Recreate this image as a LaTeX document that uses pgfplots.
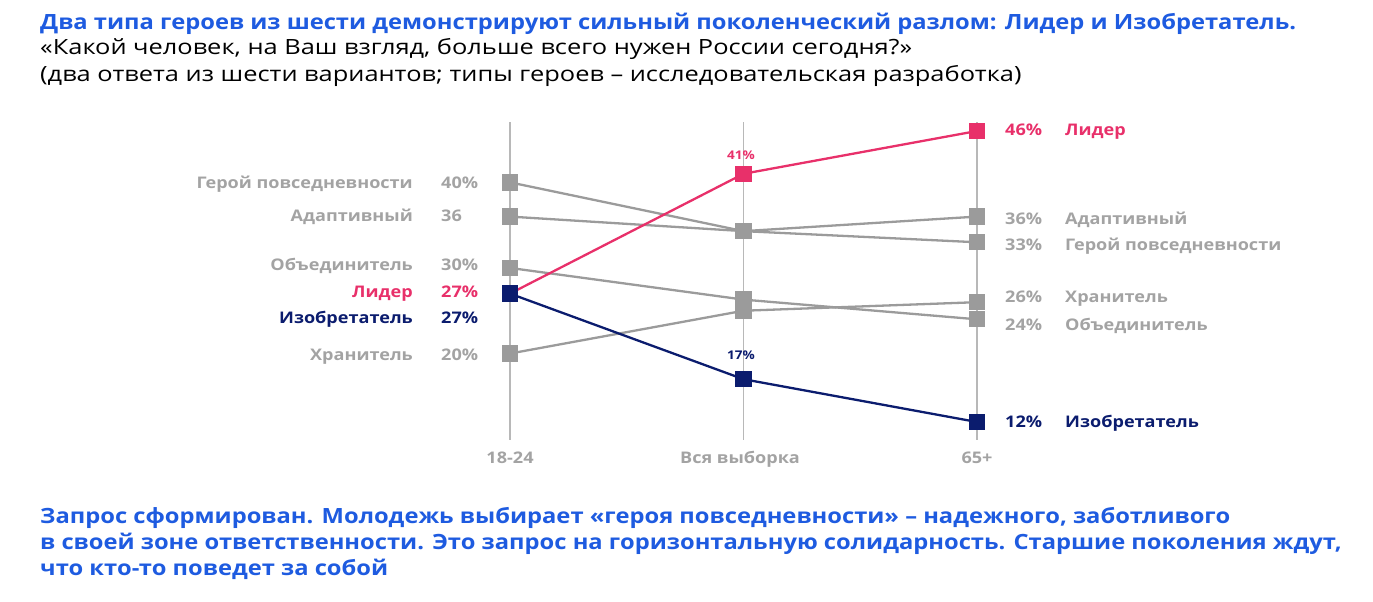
\documentclass[border=0pt]{standalone}
\usepackage{pgfplots}
\pgfplotsset{compat=1.18}
\usepackage{fontspec}
\setmainfont{Open Sans}[FakeStretch=1.13]
\newfontfamily\subfont{Open Sans}[FakeStretch=1.21]
\definecolor{tblue}{HTML}{1E5BE0}
\definecolor{pinkc}{HTML}{E8306A}
\definecolor{navyc}{HTML}{0B1C6E}
\definecolor{grc}{HTML}{9B9B9B}
\definecolor{lblc}{HTML}{A3A3A3}
\definecolor{vline}{HTML}{B8B8B8}
\begin{document}
\begin{tikzpicture}[x=1pt,y=1pt,
  lab/.style={font=\bfseries\fontsize{16}{18}\selectfont, text=lblc, inner sep=0pt},
  ttl/.style={font=\bfseries\fontsize{21}{24}\selectfont, text=tblue, inner sep=0pt, anchor=mid west},
  sub/.style={font=\subfont\fontsize{21}{24}\selectfont, text=black, inner sep=0pt, anchor=mid west}]
\path (0,0) rectangle (1373,-602);
\begin{axis}[at={(510pt,-422pt)}, anchor=south west, scale only axis,
  width=467pt, height=291pt, xmin=0, xmax=2, ymin=12, ymax=46,
  hide axis, clip=false]
\foreach \xx in {0,1,2} {
  \edef\tmp{\noexpand\draw[vline, line width=1.2pt] (axis cs:\xx,9.9) -- (axis cs:\xx,47.05);}
  \tmp
}
% grey series
\addplot[grc, line width=2.3pt, mark=square*, mark size=7pt, mark options={fill=grc, draw=none}] coordinates {(0,40)(1,34.3)(2,33)};
\addplot[grc, line width=2.3pt, mark=square*, mark size=7pt, mark options={fill=grc, draw=none}] coordinates {(0,36)(1,34.3)(2,36)};
\addplot[grc, line width=2.3pt, mark=square*, mark size=7pt, mark options={fill=grc, draw=none}] coordinates {(0,30)(1,26.3)(2,24)};
\addplot[grc, line width=2.3pt, mark=square*, mark size=7pt, mark options={fill=grc, draw=none}] coordinates {(0,20)(1,25)(2,26)};
% leader
\addplot[pinkc, line width=2.3pt, mark=square*, mark size=7pt, mark options={fill=pinkc, draw=none}] coordinates {(0,27)(1,41)(2,46)};
% inventor
\addplot[navyc, line width=2.3pt, mark=square*, mark size=7pt, mark options={fill=navyc, draw=none}] coordinates {(0,27)(1,17)(2,12)};
\end{axis}
% left labels
\node[lab, anchor=mid east] at (413,-186) {Герой повседневности};
\node[lab, anchor=mid west] at (441,-186) {40\%};
\node[lab, anchor=mid east] at (413,-219) {Адаптивный};
\node[lab, anchor=mid west] at (441,-219) {36};
\node[lab, anchor=mid east] at (413,-268) {Объединитель};
\node[lab, anchor=mid west] at (441,-268) {30\%};
\node[lab, anchor=mid east, text=pinkc] at (413,-295) {Лидер};
\node[lab, anchor=mid west, text=pinkc] at (441,-295) {27\%};
\node[lab, anchor=mid east, text=navyc] at (413,-321) {Изобретатель};
\node[lab, anchor=mid west, text=navyc] at (441,-321) {27\%};
\node[lab, anchor=mid east] at (413,-358) {Хранитель};
\node[lab, anchor=mid west] at (441,-358) {20\%};
% right labels
\node[lab, anchor=mid west, text=pinkc] at (1005,-133) {46\%};
\node[lab, anchor=mid west, text=pinkc] at (1065,-133) {Лидер};
\node[lab, anchor=mid west] at (1005,-222) {36\%};
\node[lab, anchor=mid west] at (1065,-222) {Адаптивный};
\node[lab, anchor=mid west] at (1005,-248) {33\%};
\node[lab, anchor=mid west] at (1065,-248) {Герой повседневности};
\node[lab, anchor=mid west] at (1005,-300) {26\%};
\node[lab, anchor=mid west] at (1065,-300) {Хранитель};
\node[lab, anchor=mid west] at (1005,-328) {24\%};
\node[lab, anchor=mid west] at (1065,-328) {Объединитель};
\node[lab, anchor=mid west, text=navyc] at (1005,-425) {12\%};
\node[lab, anchor=mid west, text=navyc] at (1065,-425) {Изобретатель};
% middle labels
\node[inner sep=0pt, font=\bfseries\fontsize{12}{14}\selectfont, text=pinkc, anchor=mid] at (741,-157) {41\%};
\node[inner sep=0pt, font=\bfseries\fontsize{12}{14}\selectfont, text=navyc, anchor=mid] at (741,-357) {17\%};
% x labels
\node[lab, anchor=mid] at (510,-461) {18-24};
\node[lab, anchor=mid] at (740,-461) {Вся выборка};
\node[lab, anchor=mid] at (977,-461) {65+};
% titles
\node[ttl] at (40,-27) {Два типа героев из шести демонстрируют сильный поколенческий разлом: Лидер и Изобретатель.};
\node[sub] at (40,-52) {«Какой человек, на Ваш взгляд, больше всего нужен России сегодня?»};
\node[sub] at (40,-79) {(два ответа из шести вариантов; типы героев – исследовательская разработка)};
\node[ttl] at (40,-521) {Запрос сформирован. Молодежь выбирает «героя повседневности» – надежного, заботливого};
\node[ttl] at (40,-547) {в своей зоне ответственности. Это запрос на горизонтальную солидарность. Старшие поколения ждут,};
\node[ttl] at (40,-573) {что кто-то поведет за собой};
\end{tikzpicture}
\end{document}
